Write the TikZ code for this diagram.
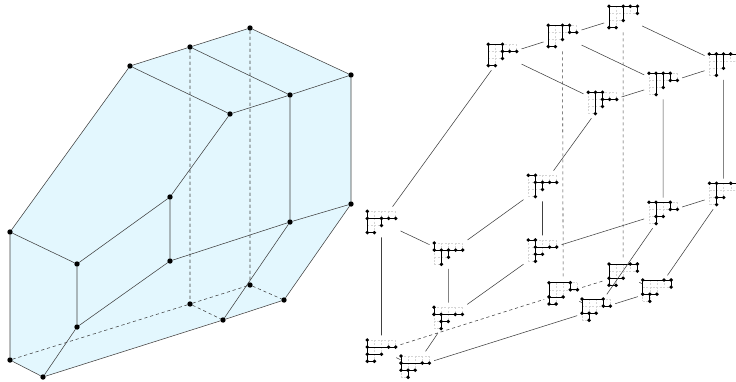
\documentclass[tikz,border=0pt]{standalone}
\definecolor{polyfill}{HTML}{E3F7FE}
\definecolor{gridgrey}{HTML}{D6D6D6}
\definecolor{edgegrey}{HTML}{404040}
\tikzset{
  vertexdot/.style={circle,fill=black,inner sep=0pt,minimum size=5.4pt,outer sep=0pt},
  polyedge/.style={draw=edgegrey,line width=0.55pt},
  hiddenedge/.style={polyedge,dash pattern=on 3.2pt off 2.8pt},
  treebox/.style={rectangle,inner sep=0pt,outer sep=0pt,minimum width=38pt,minimum height=30.6pt},
  gridline/.style={draw=gridgrey,line width=0.5pt,dash pattern=on 2pt off 1.4pt},
  treeline/.style={draw=black,line width=0.75pt},
}
% name, origin x, origin y, branches, dots
\newcommand{\youngtree}[5]{%
  \begin{scope}[shift={(#2,#3)},x=7.1pt,y=-7.1pt]
    \node[treebox] (#1) at (2,1.5) {};
    \draw[gridline] (0,0)--(4,0) (0,1)--(4,1) (0,2)--(2,2) (0,3)--(1,3)
      (0,0)--(0,3) (1,0)--(1,3) (2,0)--(2,2) (3,0)--(3,1) (4,0)--(4,1);
    \draw[treeline] #4;
    \foreach \a/\b in {#5} \fill (\a,\b) circle[radius=0.27];
  \end{scope}}
\begin{document}
\begin{tikzpicture}[x=1pt,y=-1pt]
\useasboundingbox (0,0) rectangle (736,381);
% left polytope
\fill[polyfill] (10,232)--(130,66)--(250,28)--(351,75)--(351,204)--(284,300)--(43,377)--(10,360)--cycle;
\node[vertexdot] (a) at (130,66) {};
\node[vertexdot] (b) at (190,47) {};
\node[vertexdot] (c) at (250,28) {};
\node[vertexdot] (d) at (230,114) {};
\node[vertexdot] (e) at (290,95) {};
\node[vertexdot] (f) at (351,75) {};
\node[vertexdot] (g) at (170,197) {};
\node[vertexdot] (h) at (170,261) {};
\node[vertexdot] (i) at (290,222) {};
\node[vertexdot] (s) at (351,204) {};
\node[vertexdot] (j) at (10,232) {};
\node[vertexdot] (k) at (77,264) {};
\node[vertexdot] (l) at (77,327) {};
\node[vertexdot] (m) at (10,360) {};
\node[vertexdot] (n) at (43,377) {};
\node[vertexdot] (o) at (190,304) {};
\node[vertexdot] (p) at (250,285) {};
\node[vertexdot] (q) at (223,320) {};
\node[vertexdot] (r) at (284,300) {};
\draw[polyedge] (a)--(b) (b)--(c) (a)--(d) (b)--(e) (c)--(f) (d)--(e) (e)--(f)
  (a)--(j) (d)--(g) (e)--(i) (f)--(s) (g)--(h) (g)--(k) (h)--(l) (h)--(i) (i)--(s)
  (j)--(k) (j)--(m) (k)--(l) (l)--(n) (m)--(n) (n)--(q) (q)--(r) (i)--(q) (s)--(r);
\draw[hiddenedge] (b)--(o) (c)--(p) (m)--(o) (o)--(p) (o)--(q) (p)--(r);
% right graph of trees
\youngtree{ta}{488.3}{44.3}{(0,0)--(2,0) (0,0)--(0,3)--(1,3) (2,0)--(2,2) (2,1)--(4,1)}{0/0,2/0,0/3,1/3,2/1,2/2,3/1,4/1}
\youngtree{tb}{548.3}{25.3}{(0,0)--(3,0)--(3,1)--(4,1) (0,0)--(0,3)--(1,3) (2,0)--(2,2)}{0/0,2/0,3/0,3/1,4/1,0/3,1/3,2/2}
\youngtree{tc}{609}{6.3}{(0,0)--(4,0)--(4,1) (0,0)--(0,3)--(1,3) (2,0)--(2,2)}{0/0,2/0,3/0,4/0,4/1,2/2,0/3,1/3}
\youngtree{td}{588.3}{92.3}{(0,0)--(2,0)--(2,2) (1,0)--(1,3) (2,1)--(4,1)}{0/0,1/0,2/0,1/3,2/1,2/2,3/1,4/1}
\youngtree{te}{649}{73.3}{(0,0)--(3,0)--(3,1)--(4,1) (1,0)--(1,3) (2,0)--(2,2)}{0/0,1/0,2/0,3/0,3/1,4/1,1/3,2/2}
\youngtree{tf}{709.3}{54}{(0,0)--(4,0)--(4,1) (1,0)--(1,3) (2,0)--(2,2)}{0/0,1/0,2/0,3/0,4/0,4/1,1/3,2/2}
\youngtree{tj}{367.3}{211.3}{(0,0)--(0,3)--(1,3) (0,1)--(4,1) (2,1)--(2,2)}{0/0,0/1,2/1,3/1,4/1,2/2,0/3,1/3}
\youngtree{tk}{434.3}{243}{(0,0)--(0,1)--(4,1) (1,1)--(1,3) (2,1)--(2,2)}{0/0,0/1,1/1,2/1,3/1,4/1,2/2,1/3}
\youngtree{tg}{528.3}{175.3}{(0,0)--(1,0)--(1,3) (1,1)--(4,1) (2,1)--(2,2)}{0/0,1/0,1/1,2/1,3/1,4/1,2/2,1/3}
\youngtree{th}{528.3}{240}{(0,0)--(1,0)--(1,3) (1,1)--(4,1) (1,2)--(2,2)}{0/0,1/0,1/1,3/1,4/1,1/2,2/2,1/3}
\youngtree{ti}{649}{202.3}{(0,0)--(3,0)--(3,1)--(4,1) (1,0)--(1,3) (1,2)--(2,2)}{0/0,1/0,3/0,3/1,4/1,1/2,2/2,1/3}
\youngtree{ts}{709.5}{183.3}{(0,0)--(4,0)--(4,1) (1,0)--(1,3) (1,2)--(2,2)}{0/0,1/0,3/0,4/0,4/1,1/2,2/2,1/3}
\youngtree{tl}{434}{307.3}{(0,0)--(0,1)--(4,1) (1,1)--(1,3) (1,2)--(2,2)}{0/0,0/1,1/1,3/1,4/1,1/2,2/2,1/3}
\youngtree{tm}{367.3}{340}{(0,0)--(0,3)--(1,3) (0,1)--(4,1) (0,2)--(2,2)}{0/0,0/1,3/1,4/1,0/2,2/2,0/3,1/3}
\youngtree{tn}{401}{356}{(0,0)--(0,2)--(2,2) (0,1)--(4,1) (1,2)--(1,3)}{0/0,0/1,3/1,4/1,0/2,1/2,2/2,1/3}
\youngtree{to}{549}{282.7}{(0,0)--(3,0)--(3,1)--(4,1) (0,0)--(0,3)--(1,3) (0,2)--(2,2)}{0/0,3/0,3/1,4/1,0/2,2/2,0/3,1/3}
\youngtree{tp}{609}{264}{(0,0)--(4,0)--(4,1) (0,0)--(0,3)--(1,3) (0,2)--(2,2)}{0/0,3/0,4/0,4/1,0/2,2/2,0/3,1/3}
\youngtree{tq}{582}{299}{(0,0)--(3,0)--(3,1)--(4,1) (0,0)--(0,2)--(2,2) (1,2)--(1,3)}{0/0,3/0,3/1,4/1,0/2,1/2,2/2,1/3}
\youngtree{tr}{642.7}{280}{(0,0)--(4,0)--(4,1) (0,0)--(0,2)--(2,2) (1,2)--(1,3)}{0/0,3/0,4/0,4/1,0/2,1/2,2/2,1/3}
\draw[polyedge] (ta)--(tb) (tb)--(tc) (ta)--(td) (tb)--(te) (tc)--(tf) (td)--(te) (te)--(tf)
  (ta)--(tj) (td)--(tg) (te)--(ti) (tf)--(ts) (tg)--(th) (tg)--(tk) (th)--(tl) (th)--(ti) (ti)--(ts)
  (tj)--(tk) (tj)--(tm) (tk)--(tl) (tl)--(tn) (tm)--(tn) (tn)--(tq) (tq)--(tr) (ti)--(tq) (ts)--(tr);
\draw[hiddenedge] (tb)--(to) (tc)--(tp) (tm)--(to) (to)--(tp) (to)--(tq) (tp)--(tr);
\end{tikzpicture}
\end{document}
